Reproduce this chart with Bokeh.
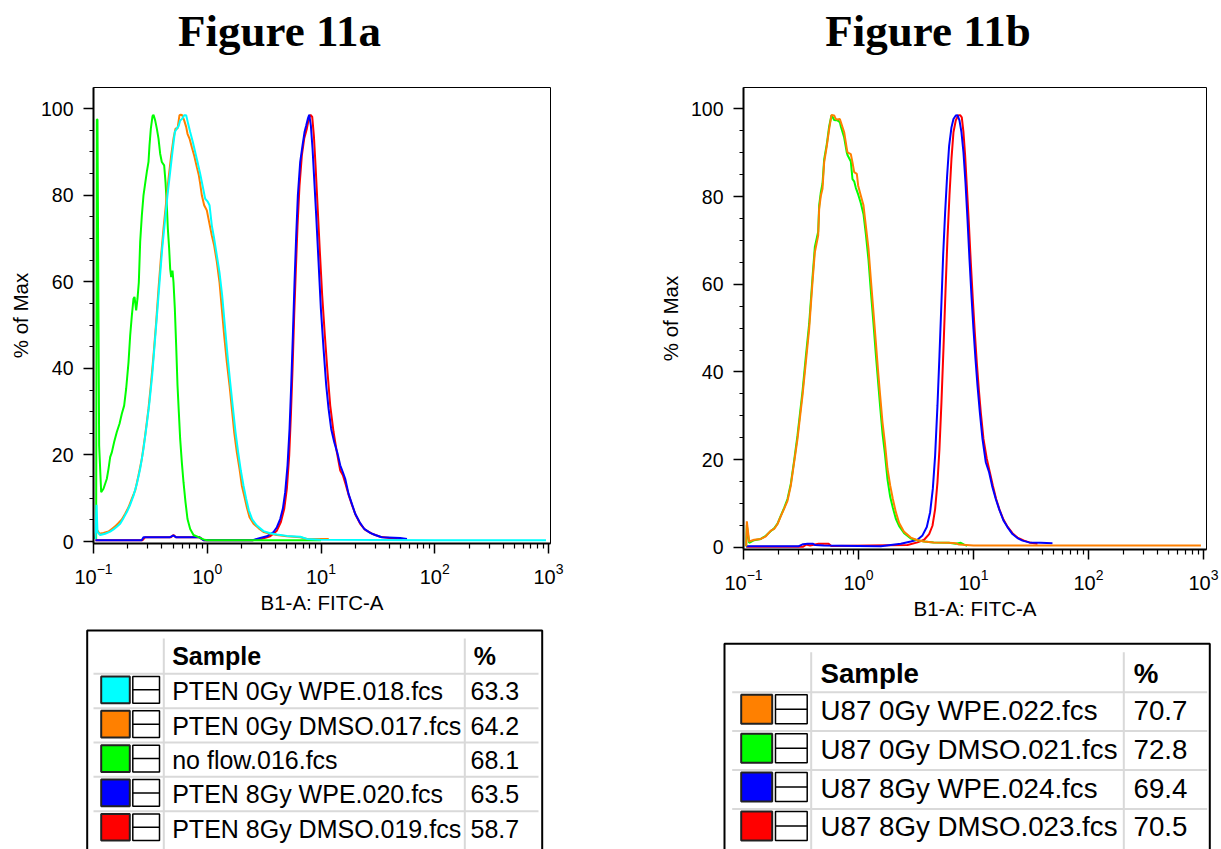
from bokeh.plotting import figure
from bokeh.layouts import row, column
from bokeh.models import Range1d, FixedTicker
from bokeh.core.properties import value
from bokeh.embed import file_html
from bokeh.resources import INLINE

# ---------------- text / ticks ----------------
titles = ["Figure 11a", "Figure 11b"]
x_label = "B1-A: FITC-A"
y_label = "% of Max"
y_ticks = [0, 20, 40, 60, 80, 100]
y_minor = [0, 5, 10, 15, 20, 25, 30, 35, 40, 45, 50, 55, 60, 65, 70, 75, 80, 85, 90, 95, 100]
x_ticks = [0.1, 1, 10, 100, 1000]
x_minor = [0.2, 0.3, 0.4, 0.5, 0.6, 0.7, 0.8, 0.9,
           2, 3, 4, 5, 6, 7, 8, 9,
           20, 30, 40, 50, 60, 70, 80, 90,
           200, 300, 400, 500, 600, 700, 800, 900]

# ---------------- legend tables ----------------
samples_a = ["PTEN 0Gy WPE.018.fcs", "PTEN 0Gy DMSO.017.fcs", "no flow.016.fcs",
             "PTEN 8Gy WPE.020.fcs", "PTEN 8Gy DMSO.019.fcs"]
pct_a = ["63.3", "64.2", "68.1", "63.5", "58.7"]
colors_a = ["#00ffff", "#ff8000", "#00ff00", "#0000ff", "#ff0000"]

samples_b = ["U87 0Gy WPE.022.fcs", "U87 0Gy DMSO.021.fcs", "U87 8Gy WPE.024.fcs",
             "U87 8Gy DMSO.023.fcs"]
pct_b = ["70.7", "72.8", "69.4", "70.5"]
colors_b = ["#ff8000", "#00ff00", "#0000ff", "#ff0000"]

# ---------------- Figure 11a histograms ----------------
a_cyan_x = [0.1041, 0.1063, 0.1084, 0.1144, 0.1266, 0.1401, 0.1499, 0.1603, 0.1715, 0.1835,
            0.1963, 0.2101, 0.2247, 0.2404, 0.2572, 0.2751, 0.2943, 0.3106, 0.3280, 0.3461,
            0.3652, 0.3828, 0.4015, 0.4238, 0.4472, 0.4721, 0.4982, 0.5188, 0.5403, 0.5625,
            0.5779, 0.6018, 0.6267, 0.6526, 0.6795, 0.7077, 0.7467, 0.7830, 0.8211, 0.8663,
            0.9145, 0.9587, 1.005, 1.047, 1.097, 1.150, 1.214, 1.281, 1.352, 1.428,
            1.507, 1.591, 1.679, 1.772, 1.870, 1.973, 2.083, 2.198, 2.320, 2.482,
            2.729, 3.124, 3.577, 4.093, 5.012, 6.566, 7.514, 9.84, 100, 950]
a_cyan_y = [0.6, 8.5, 2.2, 1.5, 1.8, 2.3, 2.8, 3.4, 4.1, 5.4,
            6.8, 8.5, 10.6, 13.3, 16.8, 21.4, 27.2, 32.2, 38.4, 46.1,
            53.8, 60.7, 67.6, 73.8, 80.0, 85.4, 90.8, 94.6, 95.4, 96.1,
            97.3, 97.7, 98.5, 98.5, 96.5, 94.6, 92.3, 90.0, 87.7, 85.0,
            81.9, 79.2, 78.6, 77.7, 73.0, 70.0, 66.1, 62.2, 56.9, 49.9,
            43.0, 36.8, 31.0, 25.3, 20.6, 16.4, 12.9, 9.9, 7.2, 5.1,
            3.7, 2.4, 1.9, 1.6, 1.3, 1.1, 0.6, 0.4, 0.3, 0.3]

a_orange_x = [0.1027, 0.1063, 0.1129, 0.1224, 0.1355, 0.1449, 0.1550, 0.1659, 0.1774, 0.1898,
              0.2031, 0.2173, 0.2325, 0.2487, 0.2660, 0.2845, 0.3044, 0.3192, 0.3369, 0.3556,
              0.3728, 0.3908, 0.4124, 0.4353, 0.4564, 0.4818, 0.5050, 0.5258, 0.5476, 0.5702,
              0.5858, 0.6018, 0.6267, 0.6526, 0.6704, 0.6982, 0.7319, 0.7674, 0.8100, 0.8433,
              0.8663, 0.8962, 0.9395, 0.9915, 1.039, 1.097, 1.150, 1.214, 1.281, 1.343,
              1.408, 1.487, 1.569, 1.645, 1.724, 1.820, 1.921, 2.014, 2.111, 2.228,
              2.352, 2.551, 2.823, 3.124, 3.577, 4.093, 5.012, 6.566, 7.514, 11.7]
a_orange_y = [0.6, 2.9, 1.8, 2.0, 2.3, 2.9, 3.5, 4.3, 5.1, 6.4,
              7.9, 9.9, 11.8, 15.3, 19.1, 24.5, 30.7, 36.1, 43.0, 50.7,
              58.4, 65.3, 72.3, 78.4, 83.8, 89.2, 93.1, 95.4, 95.4, 98.5,
              98.6, 98.5, 97.3, 95.8, 94.2, 93.1, 91.1, 89.2, 86.5, 84.6,
              82.7, 80.0, 77.7, 76.5, 73.8, 70.7, 68.4, 64.6, 59.9, 53.8,
              47.6, 41.4, 36.1, 30.7, 25.3, 20.6, 16.8, 12.9, 10.6, 7.9,
              5.6, 4.1, 3.1, 2.2, 1.8, 1.5, 1.2, 1.0, 0.6, 0.6]

a_green_x = [0.1055, 0.1070, 0.1084, 0.1121, 0.1168, 0.1224, 0.1310, 0.1355, 0.1401, 0.1449,
             0.1519, 0.1603, 0.1693, 0.1774, 0.1860, 0.1937, 0.2031, 0.2101, 0.2173, 0.2247,
             0.2293, 0.2372, 0.2436, 0.2503, 0.2572, 0.2660, 0.2751, 0.2845, 0.2943, 0.3044,
             0.3106, 0.3192, 0.3302, 0.3369, 0.3484, 0.3604, 0.3728, 0.3855, 0.3987, 0.4180,
             0.4295, 0.4412, 0.4503, 0.4626, 0.4721, 0.4818, 0.4949, 0.5050, 0.5188, 0.5330,
             0.5476, 0.5625, 0.5779, 0.5978, 0.6183, 0.6437, 0.6704, 0.7077, 0.7570, 0.8378,
             0.9269, 0.9915, 10.0]
a_green_y = [0.6, 97.5, 97.5, 22.2, 11.4, 12.2, 14.5, 16.8, 19.5, 20.6,
             23.0, 25.3, 27.2, 29.5, 31.4, 35.3, 41.4, 47.6, 52.2, 56.1,
             56.5, 53.4, 56.1, 59.9, 69.2, 75.3, 80.0, 82.7, 85.4, 87.7,
             91.5, 95.4, 98.3, 98.6, 97.3, 95.4, 93.1, 89.6, 87.7, 86.9,
             83.1, 77.7, 72.3, 67.6, 63.0, 61.1, 62.6, 59.9, 53.8, 45.3,
             36.1, 29.9, 23.7, 18.3, 13.7, 9.1, 5.2, 2.9, 1.5, 1.0,
             0.5, 0.3, 0.3]

a_blue_x = [0.1040, 0.265, 0.275, 0.47, 0.505, 0.53, 0.85, 0.927, 2.5, 2.921,
            3.344, 3.826, 4.093, 4.378, 4.622, 4.845, 5.079, 5.288, 5.470, 5.657,
            5.851, 6.053, 6.260, 6.563, 6.880, 7.165, 7.411, 7.665, 7.875, 8.145,
            8.424, 8.713, 9.073, 9.513, 9.973, 10.53, 11.11, 11.65, 12.29, 13.06,
            13.98, 14.76, 15.57, 16.32, 17.46, 18.68, 19.98, 21.82, 23.98, 27.07,
            29.96, 34.28, 49.7, 57.0]
a_blue_y = [0.3, 0.3, 1.0, 1.0, 1.4, 1.0, 1.0, 0.3, 0.3, 0.8,
            1.2, 2.2, 3.3, 5.2, 7.6, 11.4, 17.6, 26.0, 36.1, 47.6,
            59.9, 70.7, 80.0, 87.7, 91.5, 94.6, 96.1, 97.7, 98.6, 96.1,
            90.8, 83.8, 75.3, 64.6, 53.8, 44.5, 36.1, 30.7, 26.0, 23.0,
            20.3, 17.6, 16.0, 14.5, 11.0, 8.7, 6.4, 4.5, 2.9, 2.0,
            1.5, 1.0, 0.8, 0.6]

a_red_x = [0.1040, 0.27, 0.285, 0.48, 0.505, 0.53, 0.85, 0.93, 2.5, 3.021,
           3.577, 4.093, 4.438, 4.748, 5.011, 5.254, 5.434, 5.621, 5.811, 6.012,
           6.218, 6.475, 6.787, 7.116, 7.511, 7.822, 8.090, 8.368, 8.655, 8.952,
           9.322, 9.773, 10.24, 10.81, 11.41, 12.05, 12.89, 13.79, 14.76, 15.57,
           16.43, 17.58, 18.81, 20.12, 22.11, 24.47, 28.01, 33.15, 46.45, 52.0]
a_red_y = [0.3, 0.3, 1.0, 1.0, 1.5, 1.0, 1.0, 0.3, 0.3, 0.6,
           1.2, 2.5, 4.5, 7.5, 12.2, 19.9, 29.1, 39.9, 52.2, 63.0,
           73.0, 82.3, 89.2, 93.1, 95.4, 97.7, 98.6, 98.1, 93.8, 86.9,
           77.7, 66.9, 56.9, 47.6, 39.1, 31.4, 25.3, 20.6, 16.4, 15.3,
           13.3, 10.6, 8.3, 6.2, 4.1, 2.7, 1.8, 1.1, 0.6, 0.5]

# ---------------- Figure 11b histograms ----------------
b_orange_x = [0.1055, 0.1069, 0.1120, 0.1238, 0.1415, 0.1563, 0.1729, 0.1848, 0.1976, 0.2112,
              0.2258, 0.2413, 0.2580, 0.2758, 0.2948, 0.3258, 0.3483, 0.3724, 0.3981, 0.4172,
              0.4460, 0.4550, 0.4705, 0.4864, 0.5028, 0.5304, 0.5556, 0.5822, 0.6143, 0.6351,
              0.6567, 0.6882, 0.7022, 0.7506, 0.7918, 0.8023, 0.8576, 0.8867, 0.9169, 0.9672,
              0.9934, 1.048, 1.105, 1.158, 1.222, 1.280, 1.350, 1.415, 1.483, 1.543,
              1.617, 1.694, 1.787, 1.886, 1.989, 2.112, 2.258, 2.494, 2.850, 3.256,
              3.722, 4.5, 6.1, 7.0, 7.5, 10.0, 100, 950]
b_orange_y = [0.2, 5.9, 1.3, 1.7, 1.9, 2.5, 3.8, 4.2, 5.3, 7.1,
              8.8, 10.6, 14.1, 19.4, 24.7, 34.6, 42.2, 49.8, 60.5, 67.3,
              71.1, 77.2, 80.2, 81.8, 87.8, 91.6, 95.4, 98.6, 98.5, 97.7,
              97.6, 97.7, 97.0, 94.7, 90.9, 90.1, 89.7, 87.8, 85.6, 85.2,
              82.5, 80.2, 78.0, 73.4, 68.1, 61.2, 53.6, 46.8, 39.9, 34.6,
              28.5, 24.0, 17.9, 14.1, 11.0, 8.0, 5.5, 3.5, 2.2, 1.6,
              1.3, 1.1, 1.0, 0.9, 0.6, 0.4, 0.4, 0.4]

b_green_x = [0.1055, 0.1069, 0.1120, 0.1238, 0.1415, 0.1563, 0.1729, 0.1848, 0.1976, 0.2112,
             0.2258, 0.2413, 0.2580, 0.2758, 0.2948, 0.3258, 0.3483, 0.3724, 0.3981, 0.4172,
             0.4460, 0.4550, 0.4705, 0.4864, 0.5028, 0.5304, 0.5556, 0.5822, 0.6143, 0.6351,
             0.6567, 0.6882, 0.7022, 0.7506, 0.7918, 0.8023, 0.8576, 0.8867, 0.9169, 0.9480,
             0.9934, 1.048, 1.105, 1.158, 1.222, 1.280, 1.350, 1.415, 1.483, 1.543,
             1.617, 1.694, 1.787, 1.886, 1.989, 2.112, 2.258, 2.494, 2.850, 3.256,
             3.722, 4.5, 6.1, 7.0, 7.75, 8.3, 8.8]
b_green_y = [0.2, 5.0, 1.0, 1.6, 1.9, 2.6, 3.7, 4.3, 5.4, 7.2,
             9.0, 11.0, 14.5, 19.8, 25.5, 35.5, 43.5, 51.0, 61.5, 68.5,
             72.0, 78.0, 81.0, 83.0, 88.5, 92.0, 96.0, 98.6, 97.5, 97.4,
             97.4, 97.0, 96.0, 93.5, 90.0, 89.5, 88.0, 84.0, 83.5, 82.0,
             80.5, 78.5, 76.0, 71.5, 65.5, 58.5, 51.0, 44.0, 37.5, 32.0,
             26.0, 21.5, 15.5, 11.5, 9.0, 6.5, 4.8, 3.2, 2.0, 1.6,
             1.3, 1.1, 1.0, 0.8, 1.0, 0.6, 0.3]

b_blue_x = [0.1055, 0.30, 0.33, 0.36, 0.40, 0.42, 0.5, 1.0, 1.563, 2.333,
            2.850, 3.256, 3.600, 3.926, 4.197, 4.428, 4.638, 4.860, 5.058, 5.265,
            5.444, 5.667, 5.898, 6.139, 6.433, 6.696, 7.016, 7.254, 7.551, 7.858,
            8.180, 8.513, 8.862, 9.224, 9.601, 9.993, 10.40, 10.83, 11.35, 11.97,
            12.79, 13.67, 14.62, 15.63, 16.71, 18.22, 19.74, 21.82, 24.12, 26.66,
            30.46, 38.47, 48.61]
b_blue_y = [0.2, 0.2, 0.7, 0.8, 0.8, 0.5, 0.4, 0.3, 0.2, 0.8,
            1.3, 1.7, 2.7, 4.6, 8.0, 13.3, 20.9, 32.3, 43.7, 55.9,
            66.5, 76.4, 84.8, 91.6, 95.8, 97.7, 98.5, 98.6, 97.4, 94.7,
            90.1, 83.3, 74.9, 65.8, 57.4, 49.8, 43.0, 36.9, 30.8, 24.7,
            19.4, 17.1, 13.7, 11.0, 8.7, 6.1, 4.6, 3.0, 2.1, 1.5,
            1.1, 1.0, 0.9]

b_red_x = [0.1055, 0.33, 0.35, 0.38, 0.45, 0.55, 0.58, 2.666, 3.256, 3.722,
           4.114, 4.398, 4.638, 4.860, 5.058, 5.265, 5.481, 5.705, 5.937, 6.180,
           6.433, 6.696, 7.016, 7.352, 7.652, 7.911, 8.180, 8.457, 8.744, 9.102,
           9.473, 9.861, 10.26, 10.68, 11.12, 11.57, 12.21, 13.05, 13.76, 14.72,
           15.73, 16.82, 18.22, 19.74, 21.82, 24.12, 27.56, 31.49, 36.00]
b_red_y = [0.1, 0.1, 0.6, 0.4, 0.8, 0.8, 0.3, 0.5, 1.1, 1.7,
           3.0, 4.9, 8.7, 14.8, 22.4, 33.1, 45.3, 58.2, 70.4, 80.2,
           88.6, 94.7, 97.4, 98.5, 98.6, 98.1, 94.7, 89.4, 82.5, 74.2,
           65.0, 56.7, 49.1, 42.2, 36.1, 30.8, 24.7, 20.2, 17.5, 14.1,
           11.0, 8.6, 6.3, 4.7, 3.2, 2.2, 1.5, 1.0, 0.8]

# draw order: last listed in legend first, so first legend entry is on top
series_a = [("#ff0000", a_red_x, a_red_y), ("#0000ff", a_blue_x, a_blue_y),
            ("#00ff00", a_green_x, a_green_y), ("#ff8000", a_orange_x, a_orange_y),
            ("#00ffff", a_cyan_x, a_cyan_y)]
series_b = [("#ff0000", b_red_x, b_red_y), ("#0000ff", b_blue_x, b_blue_y),
            ("#00ff00", b_green_x, b_green_y), ("#ff8000", b_orange_x, b_orange_y)]

SANS = "Liberation Sans"
SERIF = "Liberation Serif"
HEADER_H = 70
PLOT_H = 555
TABLE_H = 849 - HEADER_H - PLOT_H
SHIFT = 0.37   # baseline correction (fraction of font size) for text glyphs


def blank(w, h):
    f = figure(width=w, height=h, x_range=Range1d(0, w), y_range=Range1d(h, 0),
               output_backend="svg", toolbar_location=None, min_border=0,
               x_axis_location=None, y_axis_location=None)
    f.grid.visible = False
    f.outline_line_color = None
    f.background_fill_color = "white"
    f.border_fill_color = "white"
    return f


def make_header(w, title, cx):
    h = blank(w, HEADER_H)
    fs = 45
    h.text(x=[cx], y=[46.7 - SHIFT * fs], text=[title], text_font=value(SERIF),
           text_font_style="bold", text_font_size=f"{fs}px", text_align="center",
           text_baseline="alphabetic", text_color="black")
    return h


def make_plot(series, left, fw, right, fh, bottom, x_end, y_start, y_end):
    p = figure(width=left + fw + right, height=17 + fh + bottom,
               frame_width=fw, frame_height=fh,
               x_axis_type="log", x_range=Range1d(0.1, x_end), y_range=Range1d(y_start, y_end),
               output_backend="svg", toolbar_location=None,
               min_border_left=left, min_border_right=right, min_border_top=17,
               min_border_bottom=bottom)
    p.grid.visible = False
    p.outline_line_color = "black"
    p.outline_line_width = 1
    p.background_fill_color = "white"
    p.border_fill_color = "white"
    for color, xs, ys in series:
        p.line(xs, ys, line_color=color, line_width=2)
    p.xaxis.ticker = FixedTicker(ticks=x_ticks, minor_ticks=x_minor)
    p.yaxis.ticker = FixedTicker(ticks=y_ticks, minor_ticks=y_minor)
    for ax in (p.xaxis[0], p.yaxis[0]):
        ax.axis_line_width = 2
        ax.axis_line_color = "black"
        ax.major_tick_line_color = "black"
        ax.minor_tick_line_color = "black"
        ax.major_tick_line_width = 1.5
        ax.minor_tick_line_width = 1.2
        ax.major_tick_in = 0
        ax.minor_tick_in = 0
        ax.major_tick_out = 10
        ax.major_label_text_font = SANS
        ax.major_label_text_font_size = "19.5px"
        ax.major_label_text_color = "black"
        ax.axis_label_text_font = SANS
        ax.axis_label_text_font_size = "20.5px"
        ax.axis_label_text_font_style = "normal"
        ax.axis_label_text_color = "black"
    p.xaxis.major_label_text_font_size = "20px"
    p.xaxis.minor_tick_out = 5
    p.yaxis.minor_tick_out = 4
    p.yaxis.major_label_standoff = 10
    p.xaxis.major_label_standoff = 9
    p.xaxis.axis_label = x_label
    p.yaxis.axis_label = y_label
    p.xaxis.axis_label_standoff = 4
    p.yaxis.axis_label_standoff = 6
    return p


def make_table(w, xo, box, vseps, vtop, hx, first_line, pitch, sw, ic, top_off, sq_h,
               text_x, pct_x, base_off, head_base, head_pct_x, fs, samples, pcts, colors):
    t = blank(w, TABLE_H)
    yo = HEADER_H + PLOT_H
    bl, bt, br = box
    fsize = f"{fs}px"
    sh = SHIFT * fs
    # gray grid lines
    t.segment(x0=[v - xo for v in vseps], y0=[vtop - yo] * len(vseps),
              x1=[v - xo for v in vseps], y1=[TABLE_H + 20] * len(vseps),
              line_color="#d9d9d9", line_width=2)
    ys = [first_line + i * pitch - yo for i in range(len(samples))]
    t.segment(x0=[hx[0] - xo] * len(ys), y0=ys, x1=[hx[1] - xo] * len(ys), y1=ys,
              line_color="#d9d9d9", line_width=2)
    # outer frame
    t.line(x=[bl - xo, bl - xo, br - xo, br - xo], y=[TABLE_H + 20, bt - yo, bt - yo, TABLE_H + 20],
           line_color="black", line_width=2)
    # header
    t.text(x=[text_x - xo, head_pct_x - xo], y=[head_base - yo - sh] * 2, text=["Sample", "%"],
           text_font=value(SANS), text_font_style="bold", text_font_size=fsize,
           text_baseline="alphabetic", text_color="black")
    tops = [y + top_off for y in ys]
    t.quad(left=[sw[0] - xo] * len(ys), right=[sw[1] - xo] * len(ys), top=tops,
           bottom=[y + sq_h for y in tops], fill_color=colors, line_color="#222222",
           line_width=2)
    t.quad(left=[ic[0] - xo] * len(ys), right=[ic[1] - xo] * len(ys), top=tops,
           bottom=[y + sq_h for y in tops], fill_color="white", line_color="black",
           line_width=1.5)
    mids = [y + sq_h / 2 for y in tops]
    t.segment(x0=[ic[0] - xo] * len(ys), y0=mids, x1=[ic[1] - xo] * len(ys), y1=mids,
              line_color="black", line_width=1.5)
    bases = [y + base_off - sh for y in ys]
    t.text(x=[text_x - xo] * len(ys), y=bases, text=samples, text_font=value(SANS),
           text_font_size=fsize, text_baseline="alphabetic", text_color="black")
    t.text(x=[pct_x - xo] * len(ys), y=bases, text=pcts, text_font=value(SANS),
           text_font_size=fsize, text_baseline="alphabetic", text_color="black")
    return t


WA, WB = 610, 611

ha = make_header(WA, titles[0], 279)
pa = make_plot(series_a, 93, 457, 60, 456, 82, 1041, -0.46, 104.9)
ta = make_table(WA, 0, (86.7, 630, 541.7), [163.3, 464.3], 638, (93, 538), 673.3, 34.35,
                (100.7, 129.3), (132.3, 159.0), 2.7, 26.7, 171.7, 470, 26.7, 665, 473.3,
                25, samples_a, pct_a, colors_a)

hb = make_header(WB, titles[1], 317.5)
pb = make_plot(series_b, 133, 463, 15, 462, 76, 1062, -0.52, 104.9)
tb = make_table(WB, 610, (724, 643.3, 1209.3), [810.7, 1123.3], 651.7, (731.7, 1206.7), 691.7,
                38.9, (740.7, 771.7), (775.0, 806.7), 2.6, 29.0, 820, 1133, 28.3, 683.3, 1133.3,
                27.7, samples_b, pct_b, colors_b)

# each figure wrapped in its own box so that frames are not aligned across the column
layout = row(column(row(ha), row(pa), row(ta)), column(row(hb), row(pb), row(tb)))

with open("out.html", "w") as fh:
    fh.write(file_html(layout, INLINE))
